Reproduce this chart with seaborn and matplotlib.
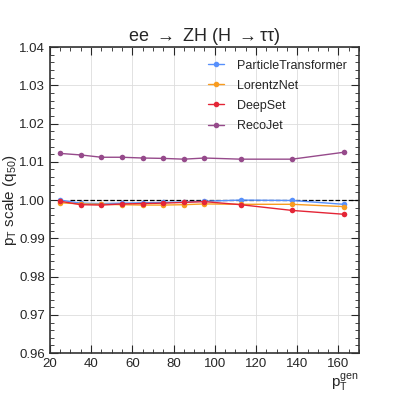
import matplotlib

matplotlib.use("Agg")
import matplotlib.pyplot as plt
import numpy as np
import pandas as pd
import seaborn as sns

# x bin centres (p_T^gen) and median response per model
pt_gen = [25, 35, 45, 55, 65, 75, 85, 95, 112.5, 137.5, 162.5]
particle_transformer = [1.0000, 0.9992, 0.9991, 0.9992, 0.9993, 0.9994, 0.9995, 0.9997, 1.0000, 0.9999, 0.9989]
lorentz_net = [0.9993, 0.9990, 0.9989, 0.9988, 0.9987, 0.9987, 0.9988, 0.9990, 0.9989, 0.9989, 0.9983]
deep_set = [0.9997, 0.9988, 0.9987, 0.9990, 0.9991, 0.9992, 0.9994, 0.9996, 0.9988, 0.9973, 0.9963]
reco_jet = [1.0122, 1.0118, 1.0112, 1.0112, 1.0110, 1.0109, 1.0107, 1.0110, 1.0107, 1.0107, 1.0125]

model_names = ["ParticleTransformer", "LorentzNet", "DeepSet", "RecoJet"]
model_colors = ["#5790fc", "#f89c20", "#e42536", "#964a8b"]

sns.set_theme(style="ticks")
plt.rcParams["font.family"] = ["Liberation Sans", "DejaVu Sans"]
plt.rcParams["mathtext.fontset"] = "custom"
plt.rcParams["mathtext.rm"] = "Liberation Sans"
plt.rcParams["mathtext.it"] = "Liberation Sans"

frames = []
for name, vals in zip(model_names, [particle_transformer, lorentz_net, deep_set, reco_jet]):
    frames.append(pd.DataFrame({"pt": pt_gen, "scale": vals, "model": name}))
df = pd.concat(frames, ignore_index=True)

fig = plt.figure(figsize=(3.99, 3.99), dpi=100)
ax = fig.add_axes([0.125, 0.115, 0.775, 0.767])

sns.lineplot(
    data=df,
    x="pt",
    y="scale",
    hue="model",
    hue_order=model_names,
    palette=model_colors,
    marker="o",
    markersize=4,
    markeredgewidth=0,
    linewidth=1.0,
    ax=ax,
)
ax.hlines(1.0, 30, 170, colors="black", linestyles="--", linewidth=0.9, zorder=1)

ax.set_xlim(20, 170)
ax.set_ylim(0.96, 1.04)
ax.set_xticks(np.arange(20, 161, 20))
ax.set_yticks(np.arange(0.96, 1.0401, 0.01))
ax.set_yticklabels([f"{v:.2f}" for v in np.arange(0.96, 1.0401, 0.01)])
ax.minorticks_on()
ax.tick_params(which="both", direction="in", top=True, right=True, labelsize=9.5)
ax.tick_params(which="major", length=6, width=0.8)
ax.tick_params(which="minor", length=3, width=0.6)
ax.grid(True, which="major", color="#dddddd", linewidth=0.6)
for s in ax.spines.values():
    s.set_linewidth(1.2)
    s.set_color("#333333")

ax.set_title(r"ee $\rightarrow$ ZH (H $\rightarrow\tau\tau$)", fontsize=13, pad=3)
ax.set_ylabel(r"p$_{\mathrm{T}}$ scale (q$_{50}$)", fontsize=11, labelpad=0)
ax.set_xlabel(r"p$_{\mathrm{T}}^{\mathrm{gen}}$", fontsize=11, loc="right", labelpad=1)

ax.legend(loc="upper right", frameon=False, fontsize=9, handlelength=1.3,
          handletextpad=1.0, borderaxespad=0.6, labelspacing=0.65, title=None)

fig.savefig("out.png", dpi=100)
